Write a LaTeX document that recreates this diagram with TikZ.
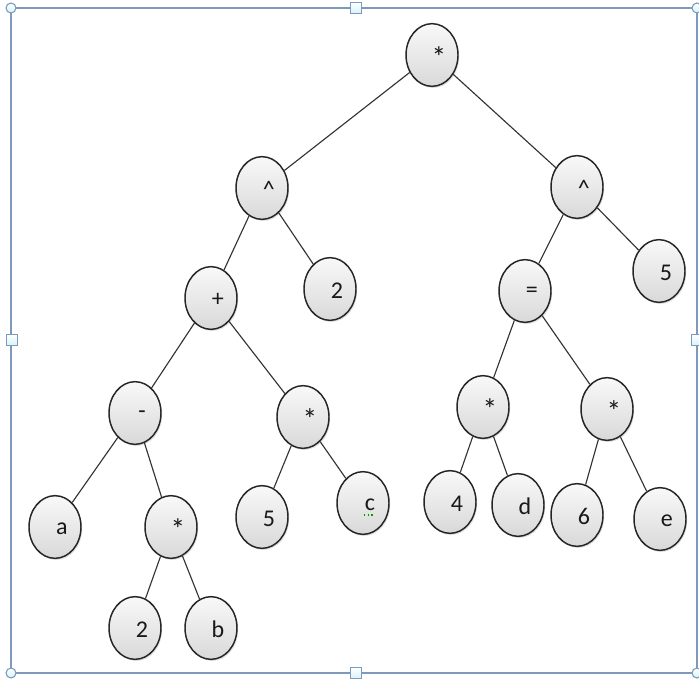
\documentclass[tikz,border=0pt]{standalone}
\usepackage{fontspec}
\setmainfont{Carlito}
\usetikzlibrary{shapes.geometric,shadows}
\definecolor{framec}{HTML}{7D99BC}
\definecolor{handlec}{HTML}{D6F3F8}
\definecolor{edgec}{HTML}{333333}
\tikzset{
  x=0.75pt, y=-0.75pt,
  tn/.style={ellipse, draw=black!85, line width=1.1pt, top color=gray!5, bottom color=gray!30,
    minimum width=39pt, minimum height=47pt, inner sep=0pt,
    drop shadow={opacity=0.25, shadow xshift=0.9pt, shadow yshift=-1.2pt}},
  lab/.style={font=\fontsize{18}{21}\selectfont, text=black!90, xshift=5.2pt, yshift=-1.2pt},
  labst/.style={font=\fontsize{22}{24}\selectfont, text=black!90, xshift=5.2pt, yshift=-1.2pt},
  edge/.style={draw=edgec, line width=0.85pt},
  frameline/.style={draw=framec, line width=1.8pt},
  cornerh/.style={circle, draw=framec, line width=0.8pt, top color=white, bottom color=handlec, minimum size=7.5pt, inner sep=0pt},
  midh/.style={rectangle, draw=framec, line width=0.8pt, top color=white, bottom color=handlec, minimum size=8pt, inner sep=0pt}
}
\begin{document}
\begin{tikzpicture}
\useasboundingbox (0,0) rectangle (699,681);
% selection frame
\coordinate (f1) at (11,8);
\coordinate (f2) at (697,673);
\draw[frameline] (f1) rectangle (f2);
\node[cornerh] (h1) at (11,8) {};
\node[cornerh] (h2) at (697,8) {};
\node[cornerh] (h3) at (11,673) {};
\node[cornerh] (h4) at (697,673) {};
\node[midh] (h5) at (356,8) {};
\node[midh] (h6) at (356,673) {};
\node[midh] (h7) at (12,340) {};
\node[midh] (h8) at (697,340) {};

% nodes
\node[tn, label={[labst]center:*}] (root) at (432,55) {};
\node[tn, label={[lab]center:\^{}}] (pl) at (262,188) {};
\node[tn, label={[lab]center:\^{}}] (pr) at (577,187) {};
\node[tn, label={[lab]center:+}] (plus) at (211,298) {};
\node[tn, label={[lab]center:2}] (two) at (330,289) {};
\node[tn, label={[lab]center:=}] (eq) at (525,291) {};
\node[tn, label={[lab]center:5}] (fiver) at (659,271) {};
\node[tn, label={[lab]center:-}] (minus) at (135,413) {};
\node[tn, label={[labst]center:*}] (mulm) at (303,417) {};
\node[tn, label={[labst]center:*}] (mull) at (483,407) {};
\node[tn, label={[labst]center:*}] (mulr) at (607,409) {};
\node[tn, label={[lab]center:a}] (a) at (55,527) {};
\node[tn, label={[labst]center:*}] (mulb) at (171,527) {};
\node[tn, label={[lab]center:5}] (five) at (262,517) {};
\node[tn, label={[lab]center:c}] (c) at (363,503) {};
\node[tn, label={[lab]center:4}] (four) at (450,502) {};
\node[tn, label={[lab]center:d}] (d) at (518,505) {};
\node[tn, label={[lab]center:6}] (six) at (577,515) {};
\node[tn, label={[lab]center:e}] (e) at (660,519) {};
\node[tn, label={[lab]center:2}] (twob) at (135,628) {};
\node[tn, label={[lab]center:b}] (b) at (211,628) {};

% spell-check mark under c
\coordinate (sq1) at (364,515);
\coordinate (sq2) at (374,515);
\draw[green!60!black, line width=0.8pt, dotted] (sq1) -- (sq2);

% edges
\draw[edge] (root) -- (pl);
\draw[edge] (root) -- (pr);
\draw[edge] (pl) -- (plus);
\draw[edge] (pl) -- (two);
\draw[edge] (pr) -- (eq);
\draw[edge] (pr) -- (fiver);
\draw[edge] (plus) -- (minus);
\draw[edge] (plus) -- (mulm);
\draw[edge] (eq) -- (mull);
\draw[edge] (eq) -- (mulr);
\draw[edge] (minus) -- (a);
\draw[edge] (minus) -- (mulb);
\draw[edge] (mulm) -- (five);
\draw[edge] (mulm) -- (c);
\draw[edge] (mull) -- (four);
\draw[edge] (mull) -- (d);
\draw[edge] (mulr) -- (six);
\draw[edge] (mulr) -- (e);
\draw[edge] (mulb) -- (twob);
\draw[edge] (mulb) -- (b);
\end{tikzpicture}
\end{document}
